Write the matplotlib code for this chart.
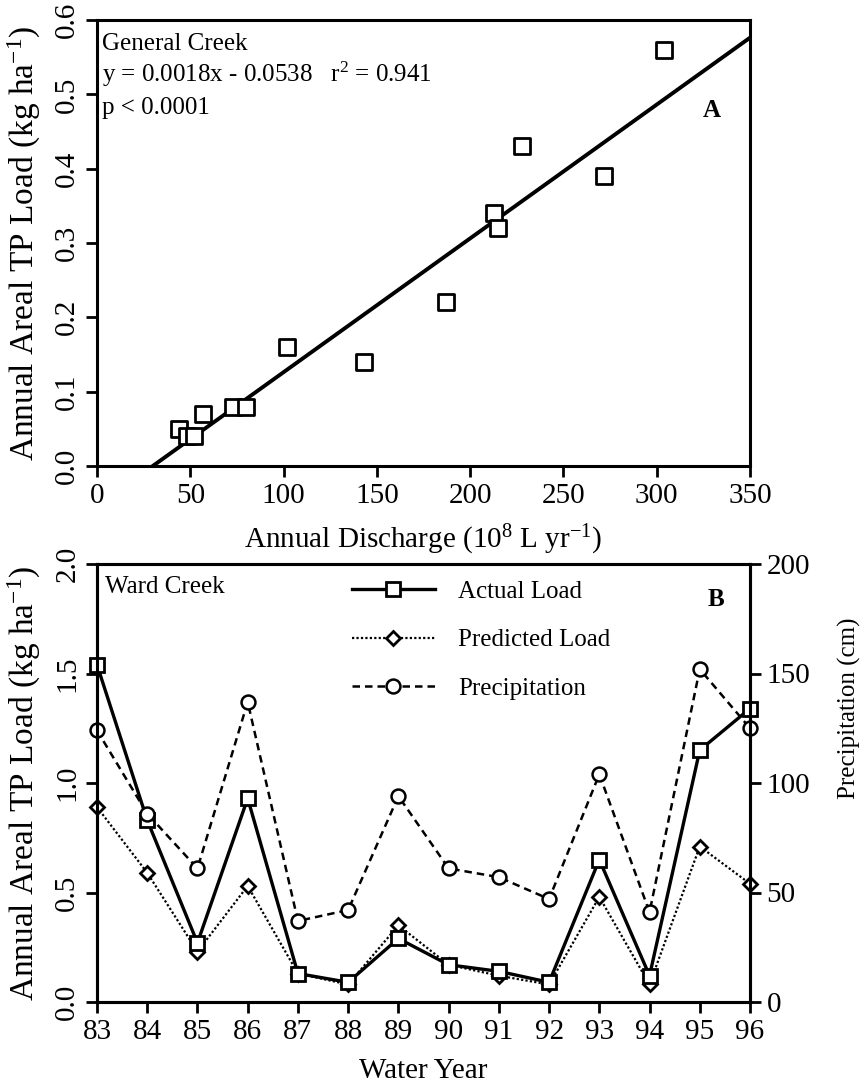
import numpy as np
import matplotlib
matplotlib.use('Agg')
import matplotlib.pyplot as plt

plt.rcParams['font.family'] = ['Liberation Serif', 'DejaVu Serif']
plt.rcParams['mathtext.fontset'] = 'custom'
plt.rcParams['mathtext.rm'] = 'Liberation Serif'
plt.rcParams['mathtext.it'] = 'Liberation Serif:italic'
plt.rcParams['mathtext.bf'] = 'Liberation Serif:bold'

## General Creek (panel A)
discharge = [44, 48, 52, 57, 73, 80, 102, 143, 187, 213, 215, 228, 272, 304]
tp_load = [0.05, 0.04, 0.04, 0.07, 0.08, 0.08, 0.16, 0.14, 0.22, 0.34, 0.32, 0.43, 0.39, 0.56]
fit_slope = 0.0018
fit_icpt = -0.0538

## Ward Creek (panel B)
years = [83, 84, 85, 86, 87, 88, 89, 90, 91, 92, 93, 94, 95, 96]
actual_load = [1.54, 0.83, 0.27, 0.93, 0.13, 0.09, 0.29, 0.17, 0.14, 0.09, 0.65, 0.12, 1.15, 1.34]
predicted_load = [0.89, 0.59, 0.23, 0.53, 0.13, 0.08, 0.35, 0.17, 0.12, 0.08, 0.48, 0.08, 0.71, 0.54]
precip = [124, 86, 61, 137, 37, 42, 94, 61, 57, 47, 104, 41, 152, 125]

TICK_FS = 21
XLABEL_FS = 21
YLABEL_FS = 24
TEXT_FS = 18


def style_axes(ax):
    for s in ax.spines.values():
        s.set_linewidth(2.2)
    ax.tick_params(direction='out', length=8, width=2, labelsize=TICK_FS, pad=4)


def panel_a(fig):
    ax = fig.add_axes([97/865, 1-466/1088, 653/865, 446/1088])
    style_axes(ax)

    ax.scatter(discharge, tp_load, marker='s', s=120, facecolors='white',
               edgecolors='black', linewidths=2, zorder=3)

    x0 = -fit_icpt/fit_slope  ## line starts where fit crosses zero
    xx = np.array([x0, 350])
    ax.plot(xx, fit_slope*xx + fit_icpt, color='black', lw=2.8, zorder=2)

    ax.set_xlim(0, 350)
    ax.set_ylim(0, 0.6)
    ax.set_xticks(np.arange(0, 351, 50))
    ax.set_yticks(np.arange(0, 0.61, 0.1))
    ax.set_yticklabels(['%.1f' % v for v in np.arange(0, 0.61, 0.1)],
                       rotation=90, va='center')
    ax.tick_params(top=False, right=False)

    ax.set_xlabel('Annual Discharge (10$^{8}$ L yr$^{-1}$)', fontsize=XLABEL_FS)
    ax.set_ylabel('Annual Areal TP Load (kg ha$^{-1}$)', fontsize=YLABEL_FS)
    ax.xaxis.set_label_coords(0.5, -0.128)
    ax.yaxis.set_label_coords(-0.083, 0.5)

    ax.text(0.008, 0.933, 'General Creek', transform=ax.transAxes,
            fontsize=TEXT_FS, va='baseline')
    ax.text(0.008, 0.861, 'y = 0.0018x - 0.0538   r$^{2}$ = 0.941',
            transform=ax.transAxes, fontsize=TEXT_FS, va='baseline')
    ax.text(0.008, 0.789, 'p < 0.0001', transform=ax.transAxes,
            fontsize=TEXT_FS, va='baseline')
    ax.text(0.942, 0.796, 'A', transform=ax.transAxes, fontsize=TEXT_FS,
            fontweight='bold', ha='center', va='center')


def panel_b(fig):
    ax = fig.add_axes([97/865, 1-1002/1088, 653/865, 438/1088])
    style_axes(ax)
    ax2 = ax.twinx()
    style_axes(ax2)

    l1, = ax.plot(years, actual_load, color='black', lw=2.4, marker='s',
                  ms=10, mfc='white', mec='black', mew=2, clip_on=False, zorder=4)
    l2, = ax.plot(years, predicted_load, color='black', lw=1.6, ls=(0, (1, 1)),
                  marker='D', ms=7.5, mfc='white', mec='black', mew=2,
                  clip_on=False, zorder=3)
    l3, = ax2.plot(years, precip, color='black', lw=1.8, ls=(0, (3, 2)),
                   marker='o', ms=10, mfc='white', mec='black', mew=1.8,
                   clip_on=False)

    ax.set_xlim(83, 96)
    ax.set_ylim(0, 2.0)
    ax2.set_ylim(0, 200)
    ax.set_xticks(years)
    ax.set_xticklabels([str(y) for y in years])
    ax.set_yticks(np.arange(0, 2.01, 0.5))
    ax.set_yticklabels(['%.1f' % v for v in np.arange(0, 2.01, 0.5)],
                       rotation=90, va='center')
    ax2.set_yticks(np.arange(0, 201, 50))
    ax.tick_params(top=False, right=False)

    ax.set_xlabel('Water Year', fontsize=XLABEL_FS)
    ax.set_ylabel('Annual Areal TP Load (kg ha$^{-1}$)', fontsize=YLABEL_FS)
    ax2.set_ylabel('Precipitation (cm)', fontsize=18)
    ax.xaxis.set_label_coords(0.5, -0.128)
    ax.yaxis.set_label_coords(-0.083, 0.5)
    ax2.yaxis.set_label_coords(1.135, 0.67)

    ax.text(0.012, 0.934, 'Ward Creek', transform=ax.transAxes,
            fontsize=TEXT_FS, va='baseline')
    ax.text(0.948, 0.918, 'B', transform=ax.transAxes, fontsize=TEXT_FS,
            fontweight='bold', ha='center', va='center')

    ax2.legend([l1, l2, l3], ['Actual Load', 'Predicted Load', 'Precipitation'],
               loc='upper left', bbox_to_anchor=(352/865, 1-580/1088),
               bbox_transform=fig.transFigure, frameon=False,
               fontsize=TEXT_FS, handlelength=3.3, handletextpad=0.95,
               labelspacing=1.05, borderpad=0, borderaxespad=0)


def main():
    fig = plt.figure(figsize=(8.65, 10.88), dpi=100)
    panel_a(fig)
    panel_b(fig)
    fig.savefig('out.png', dpi=100)


if __name__ == '__main__':
    main()
